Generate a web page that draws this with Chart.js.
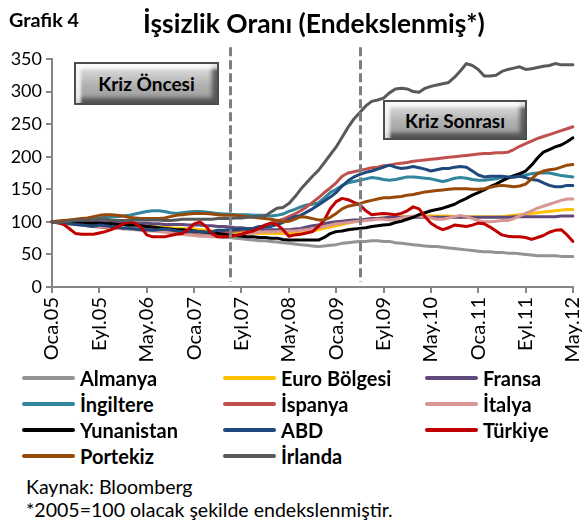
<!DOCTYPE html>
<html><head><meta charset="utf-8">
<script src="https://cdn.jsdelivr.net/npm/chart.js@4.4.0/dist/chart.umd.min.js"></script>
<style>
body{margin:0;background:#fff;}
#wrap{position:relative;width:585px;height:526px;overflow:hidden;font-family:Lato,"Open Sans",sans-serif;color:#000;}
canvas{position:absolute;left:0;top:0;}
.abs{position:absolute;white-space:nowrap;line-height:1;}
.box{position:absolute;display:flex;align-items:center;justify-content:center;font-weight:bold;box-sizing:border-box;
 border:2px solid #4d4d4d;background:linear-gradient(#e6e6e6,#b0b0b0 55%,#9a9a9a);
 box-shadow:inset 5px 5px 3px rgba(255,255,255,0.8),inset -5px -5px 4px rgba(60,60,60,0.75);}
.leg{position:absolute;display:flex;align-items:center;font-weight:bold;white-space:nowrap;}
.leg i{display:inline-block;width:53px;height:4px;margin-right:5px;border-radius:2px;}
</style></head>
<body><div id="wrap">
<canvas id="c" width="585" height="372"></canvas>
<div class="abs" id="gr" style="font-weight:bold;font-size:16px;left:9px;">Grafik 4</div>
<div class="abs" id="title" style="font-weight:bold;font-size:26px;left:143px;">İşsizlik Oranı (Endekslenmiş*)</div>
<div class="box" id="b1" style="left:74px;top:62px;width:145px;height:43px;font-size:19px;">Kriz Öncesi</div>
<div class="box" id="b2" style="left:383px;top:100px;width:144px;height:40px;font-size:19px;">Kriz Sonrası</div>
<div id="legend"></div>
<div class="abs" id="f1" style="left:26px;font-size:19px;">Kaynak: Bloomberg</div>
<div class="abs" id="f2" style="left:26px;font-size:19px;">*2005=100 olacak şekilde endekslenmiştir.</div>
</div>
<script>
// ---- data ----
const monthNames = ["Oca","Şub","Mar","Nis","May","Haz","Tem","Ağu","Eyl","Eki","Kas","Ara"];
const startYear = 2005, monthCount = 89; // Oca.05 .. May.12
const categories = [];
for (let k = 0; k < monthCount; k++) {
  const y = startYear + Math.floor(k / 12);
  categories.push(monthNames[k % 12] + "." + String(y).slice(2));
}
const yTicks = [0, 50, 100, 150, 200, 250, 300, 350];
const crisisMarks = ["Tem.07", "May.09"];

const almanya = [100,101,101,101,101,100,100,99,99,98, 97,96,95,94,93,92,91,90,89,88, 87,86,85,84,83,81,80,78,77,76, 76,75,74,73,72,71,71,70,69,68, 67,66,65,64,63,62,63,64,65,67, 68,69,70,70,71,71,70,70,68,67, 66,65,64,63,62,62,61,60,59,58, 57,56,55,54,54,53,53,52,52,51, 50,49,48,48,48,48,47,47,47];
const euroBolgesi = [100,100,100,100,100,99,99,99,99,98, 98,97,97,96,96,95,94,93,92,92, 91,90,90,89,89,88,87,86,86,85, 85,84,84,83,83,82,82,82,82,82, 82,83,83,84,86,88,90,92,94,96, 98,100,102,103,104,105,106,107,107,108, 108,108,109,109,109,109,109,109,108,108, 108,108,108,108,108,108,108,109,110,111, 112,113,114,115,116,117,118,119,119];
const fransa = [100,100,101,101,101,101,101,101,100,100, 99,99,99,98,98,98,98,97,97,96, 96,96,96,95,95,95,94,94,93,93, 92,91,91,90,89,89,88,88,88,88, 88,89,90,92,94,95,97,99,100,101, 102,103,103,104,105,105,106,107,107,107, 107,107,107,107,107,107,107,107,107,107, 107,107,107,107,107,107,107,107,108,108, 108,108,108,108,108,108,109,109,109];
const ingiltere = [100,101,101,102,103,104,104,105,106,107, 108,108,109,110,112,114,116,117,117,116, 114,113,114,115,116,116,115,114,113,112, 112,111,111,111,110,110,110,109,110,112, 116,119,123,126,127,129,137,145,150,156, 160,162,164,166,168,167,165,164,165,167, 169,169,168,167,166,164,162,164,167,168, 167,165,164,164,165,166,168,168,169,170, 172,174,175,175,175,173,171,170,169];
const ispanya = [100,99,98,97,96,95,94,93,92,91, 90,90,90,89,89,88,88,87,87,86, 86,86,85,85,84,84,84,84,84,85, 85,86,87,88,90,92,95,98,101,104, 108,112,117,123,130,137,145,152,160,170, 175,177,179,181,183,184,186,187,189,190, 191,193,194,195,196,197,198,199,200,201, 202,203,204,205,205,206,206,207,211,216, 220,224,228,231,234,237,240,243,246];
const italya = [100,99,98,97,97,96,95,94,93,92, 91,90,89,89,88,87,86,86,85,84, 83,82,81,80,79,78,78,77,77,78, 79,80,81,82,83,84,85,85,85,86, 86,86,87,88,89,91,93,95,97,98, 99,100,101,102,103,104,104,103,104,106, 108,109,109,108,106,104,104,106,108,110, 108,105,102,100,100,101,102,102,105,109, 113,117,121,124,127,130,133,135,135];
const yunanistan = [100,99,99,99,99,98,98,98,98,97, 97,96,96,95,95,94,93,92,91,90, 89,88,88,87,86,85,84,83,82,81, 80,79,78,77,77,76,76,75,75,73, 72,72,72,72,72,72,76,82,85,86, 88,89,90,91,93,94,95,96,99,101, 104,107,111,114,117,119,121,124,127,132, 136,141,145,149,154,158,163,167,171,174, 178,187,198,207,211,215,218,223,229];
const abd = [100,99,99,97,96,95,94,93,95,94, 93,92,90,90,89,88,88,87,88,89, 88,86,85,85,86,85,84,85,87,87, 88,88,89,89,90,93,92,93,96,99, 104,108,110,115,120,126,132,138,145,155, 163,169,173,176,178,181,184,187,184,182, 183,185,183,181,178,180,182,182,184,185, 184,178,172,169,170,170,170,169,169,170, 168,165,164,160,156,154,154,156,156];
const turkiye = [100,99,96,89,82,81,81,81,83,85, 88,92,97,100,98,92,80,77,77,77, 79,81,82,88,97,100,93,82,77,77, 78,79,81,84,86,90,95,98,96,88, 78,80,81,83,85,93,103,120,131,136, 134,130,126,117,111,112,113,112,111,113, 117,123,120,108,98,92,88,91,95,94, 93,95,98,97,92,86,80,78,77,77, 76,73,76,79,84,87,88,80,70];
const portekiz = [100,101,102,103,104,105,106,108,110,111, 111,110,109,107,106,105,105,105,105,106, 108,110,111,112,113,113,113,112,111,110, 110,110,109,108,107,106,105,104,102,100, 101,104,108,107,105,103,103,107,113,120, 124,126,128,131,133,135,137,137,138,139, 141,142,144,146,147,148,149,150,151,151, 151,150,150,151,153,155,156,155,154,155, 158,166,174,178,180,181,184,187,188];
const irlanda = [100,98,100,101,102,103,103,103,104,104, 103,102,102,102,103,103,103,103,103,102, 102,103,104,104,104,104,104,104,105,105, 105,106,106,107,108,108,109,115,121,122, 128,138,150,160,170,179,191,203,215,230, 245,258,268,278,285,287,290,298,304,305, 304,300,299,305,308,310,312,314,322,332, 343,340,334,324,324,325,331,334,336,338, 334,335,337,339,340,343,341,341,341];

const seriesNames = ["Almanya","Euro Bölgesi","Fransa","İngiltere","İspanya","İtalya","Yunanistan","ABD","Türkiye","Portekiz","İrlanda"];
const seriesData = [almanya, euroBolgesi, fransa, ingiltere, ispanya, italya, yunanistan, abd, turkiye, portekiz, irlanda];
const seriesColors = ["#939393","#FFC000","#604A7B","#31859C","#C0504D","#D99694","#000000","#1F497D","#C00000","#984807","#595959"];

// ---- chart ----
const FONT = "Lato";
const axisColor = "#868686";
const crisisPlugin = {
  id: "crisis",
  afterDatasetsDraw(chart) {
    const { ctx, scales: { x, y } } = chart;
    ctx.save();
    ctx.strokeStyle = "#7f7f7f";
    ctx.lineWidth = 3;
    ctx.setLineDash([9, 4]);
    crisisMarks.forEach(m => {
      const px = Math.round(x.getPixelForValue(categories.indexOf(m))) + 0.5;
      ctx.beginPath();
      ctx.moveTo(px, y.getPixelForValue(368));
      ctx.lineTo(px, y.getPixelForValue(8));
      ctx.stroke();
    });
    ctx.restore();
  }
};

const chart = new Chart(document.getElementById("c"), {
  type: "line",
  data: {
    labels: categories,
    datasets: seriesNames.map((n, k) => ({
      label: n, data: seriesData[k], borderColor: seriesColors[k], backgroundColor: seriesColors[k],
      borderWidth: 3, pointRadius: 0, tension: 0, fill: false,
      borderJoinStyle: "round", borderCapStyle: "round",
      order: seriesNames.length - k
    }))
  },
  options: {
    responsive: false, animation: false, devicePixelRatio: 1,
    layout: { padding: { left: 0, right: 12, top: 59, bottom: 0 } },
    plugins: { legend: { display: false }, tooltip: { enabled: false }, title: { display: false } },
    scales: {
      x: {
        type: "category", offset: false,
        afterFit(s) { s.height = 85; s.paddingLeft = 0; s.paddingRight = 0; },
        grid: { drawOnChartArea: false, drawTicks: true, tickLength: 6, color: axisColor, lineWidth: 2 },
        border: { display: true, color: axisColor, width: 2 },
        ticks: {
          autoSkip: false, minRotation: 90, maxRotation: 90, padding: 4,
          color: "#000", font: { family: FONT, size: 20 },
          callback(v, i) { return i % 8 === 0 ? categories[i] : null; }
        }
      },
      y: {
        min: 0, max: 350,
        afterFit(s) { s.width = 52; s.paddingTop = 0; s.paddingBottom = 0; },
        afterBuildTicks(s) { s.ticks = yTicks.map(v => ({ value: v })); },
        grid: { drawOnChartArea: false, drawTicks: true, tickLength: 6, color: axisColor, lineWidth: 2 },
        border: { display: true, color: axisColor, width: 2 },
        ticks: { color: "#000", padding: 4, font: { family: FONT, size: 18 } }
      }
    }
  },
  plugins: [crisisPlugin]
});

// ---- legend (HTML, from chart datasets) ----
const legend = document.getElementById("legend");
const colX = [22, 223, 425], rowY = [378, 404, 430, 456];
chart.data.datasets.forEach((ds, k) => {
  const d = document.createElement("div");
  d.className = "leg";
  d.style.fontSize = "19px";
  d.innerHTML = '<i style="background:' + ds.borderColor + '"></i><span>' + ds.label + '</span>';
  d.style.left = colX[k % 3] + "px";
  legend.appendChild(d);
  d.dataset.cy = rowY[Math.floor(k / 3)];
});

// ---- text fitting / placement ----
function fitWidth(el, target) {
  const w = el.getBoundingClientRect().width;
  const fs = parseFloat(getComputedStyle(el).fontSize);
  el.style.fontSize = (fs * target / w) + "px";
}
function centerY(el, cy) {
  const h = el.getBoundingClientRect().height;
  el.style.top = (cy - h / 2) + "px";
}
const title = document.getElementById("title");
fitWidth(title, 342); centerY(title, 23);
const gr = document.getElementById("gr");
fitWidth(gr, 70); centerY(gr, 20);
const f1 = document.getElementById("f1"), f2 = document.getElementById("f2");
fitWidth(f2, 367); f1.style.fontSize = f2.style.fontSize;
centerY(f1, 487); centerY(f2, 510);
const yun = legend.children[6].querySelector("span");
const legFs = 19 * 98 / yun.getBoundingClientRect().width;
Array.from(legend.children).forEach(d => { d.style.fontSize = legFs + "px"; centerY(d, +d.dataset.cy); });
</script>
</body></html>
